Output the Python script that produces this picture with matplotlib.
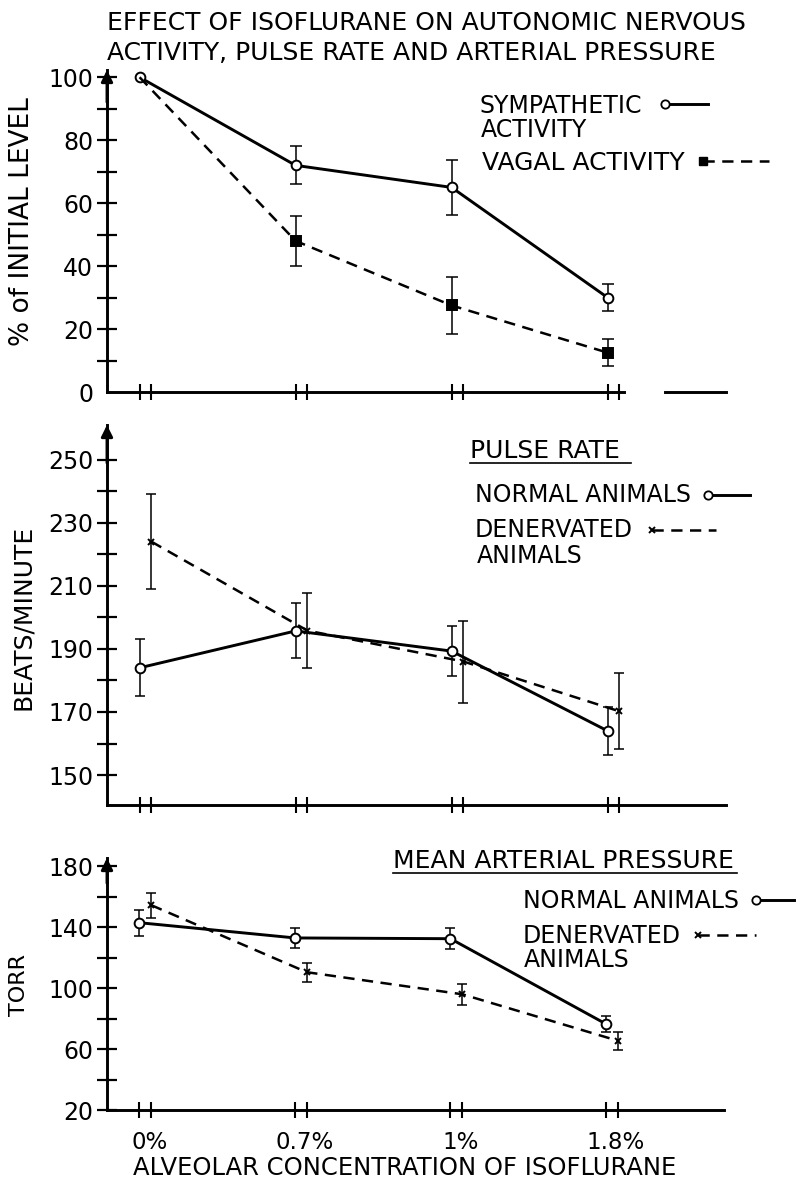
import matplotlib
matplotlib.use("Agg")
import matplotlib.pyplot as plt
from matplotlib.lines import Line2D

W, H = 796, 1183

# --- data ---------------------------------------------------------------
conc_labels = ["0%", "0.7%", "1%", "1.8%"]
conc_pos = [0, 1, 2, 3]
pair_gap = 0.076  # second tick of each tick pair, in category units

symp = [100, 72, 65, 30]
symp_err = [0, 6, 8.7, 4.3]
vagal = [100, 48, 27.5, 12.5]
vagal_err = [0, 8, 9, 4.3]

pulse_normal = [184, 195.7, 189.3, 164]
pulse_normal_err = [9, 8.7, 8, 7.6]
pulse_denerv = [224, 195.8, 186, 170.2]
pulse_denerv_err = [15, 12, 13, 12]

map_normal = [143, 133, 132.5, 76.5]
map_normal_err = [8.5, 6.3, 7, 5.5]
map_denerv = [154.5, 110.5, 96, 65.5]
map_denerv_err = [8.3, 6.3, 7, 6]

plt.rcParams["font.family"] = ["DejaVu Sans"]
FS = 17
LW = 2.1

fig = plt.figure(figsize=(W / 100, H / 100), dpi=100)


def px_axes(left, right, top, bottom):
    return fig.add_axes([left / W, 1 - bottom / H, (right - left) / W, (bottom - top) / H])


def ptxt(x, y, s, size=FS, **kw):
    fig.text(x / W, 1 - y / H, s, fontsize=size, ha=kw.pop("ha", "left"),
             va=kw.pop("va", "baseline"), **kw)


def pline(x0, x1, y, **kw):
    fig.add_artist(Line2D([x0 / W, x1 / W], [1 - y / H, 1 - y / H],
                          transform=fig.transFigure, color="k", **kw))


def style(ax, ylim, major, minor, xlabels=False):
    ax.set_xlim(-0.209, 3.759)
    ax.set_ylim(*ylim)
    for s in ("top", "right"):
        ax.spines[s].set_visible(False)
    for s in ("left", "bottom"):
        ax.spines[s].set_linewidth(LW)
    # labels sit a little right of each tick pair's centre
    ax.set_xticks([p + pair_gap * 0.85 for p in conc_pos])
    ax.set_xticks([p for p in conc_pos] + [p + pair_gap for p in conc_pos], minor=True)
    if xlabels:
        ax.set_xticklabels(conc_labels, fontsize=16.5)
    else:
        ax.set_xticklabels([])
    ax.tick_params(axis="x", which="major", length=0, pad=15)
    ax.tick_params(axis="x", which="minor", direction="inout", length=12, width=1.5)
    ax.set_yticks(major)
    ax.set_yticks(minor, minor=True)
    ax.tick_params(axis="y", which="both", direction="inout", length=14, width=1.6,
                   pad=3, labelsize=FS)
    ax.annotate("", xy=(0, 1), xycoords="axes fraction", xytext=(0, 0.9),
                arrowprops=dict(arrowstyle="-|>", color="k", lw=LW,
                                mutation_scale=17, shrinkA=0, shrinkB=0))


def series(ax, xs, ys, errs, ls, marker, ms, mfc, markevery=None, capsize=4):
    ax.plot(xs, ys, color="k", lw=LW if ls == "-" else 1.8, ls=ls,
            dashes=(4.5, 3) if ls == "--" else (None, None),
            marker=marker, ms=ms, mfc=mfc, mec="k", mew=1.4,
            markevery=markevery, zorder=3, clip_on=False)
    idx = [i for i, e in enumerate(errs) if e > 0]
    ax.errorbar([xs[i] for i in idx], [ys[i] for i in idx], yerr=[errs[i] for i in idx],
                fmt="none", ecolor="k", elinewidth=1.1, capsize=capsize, capthick=1.1,
                zorder=2)


xs_left = conc_pos
xs_right = [p + pair_gap for p in conc_pos]

# --- top: autonomic activity ---------------------------------------------
ax1 = px_axes(107, 726, 70, 392)
style(ax1, (0, 102.3), list(range(0, 101, 20)), list(range(10, 100, 20)))
ax1.yaxis.get_major_ticks()[0].tick1line.set_visible(False)
ax1.spines["bottom"].set_bounds(-0.209, 3.105)
ax1.axhline(0, 0.9015, 1, color="k", lw=LW, clip_on=False)
series(ax1, xs_left, symp, symp_err, "-", "o", 7, "white", capsize=4.5)
series(ax1, xs_left, vagal, vagal_err, "--", "s", 6.5, "k", markevery=[1, 2, 3], capsize=4.5)
ax1.lines[0].set_zorder(4)

# --- middle: pulse rate -----------------------------------------------------
ax2 = px_axes(107, 726, 425, 805)
style(ax2, (140.5, 261), list(range(150, 251, 20)), list(range(160, 241, 20)))
series(ax2, xs_left, pulse_normal, pulse_normal_err, "-", "o", 7, "white", capsize=3.3)
series(ax2, xs_right, pulse_denerv, pulse_denerv_err, "--", "x", 4, "k", capsize=3.3)

# --- bottom: mean arterial pressure ----------------------------------------
ax3 = px_axes(107, 724, 858, 1110)
style(ax3, (20, 185.5), list(range(20, 181, 40)), list(range(40, 161, 40)), xlabels=True)
series(ax3, xs_left, map_normal, map_normal_err, "-", "o", 7, "white", capsize=3.3)
series(ax3, xs_right, map_denerv, map_denerv_err, "--", "x", 4, "k", capsize=3.3)

# --- texts ------------------------------------------------------------------
ptxt(107, 30, "EFFECT OF ISOFLURANE ON AUTONOMIC NERVOUS", size=18)
ptxt(107, 60, "ACTIVITY, PULSE RATE AND ARTERIAL PRESSURE", size=18)

ptxt(22, 222, "% of INITIAL LEVEL", size=19, rotation=90, ha="center", va="center")
ptxt(23, 617, "BEATS/MINUTE", size=18, rotation=90, ha="center", va="center")
ptxt(19, 985, "TORR", size=16, rotation=90, ha="center", va="center")

ptxt(405, 1175, "ALVEOLAR CONCENTRATION OF ISOFLURANE", size=17.5, ha="center")

# legends
ptxt(480, 113, "SYMPATHETIC")
ptxt(481, 137, "ACTIVITY")
pline(665, 708, 104, lw=LW, marker="o", ms=6, mfc="white", mew=1.3, markevery=[0])
ptxt(482, 170, "VAGAL ACTIVITY", size=18)
pline(703, 769, 161, lw=1.8, ls=(0, (4.5, 3)), marker="s", ms=6, mfc="k", markevery=[0])

ptxt(470, 458, "PULSE RATE", size=18)
pline(470, 631, 463, lw=1.2)
ptxt(475, 502, "NORMAL ANIMALS")
pline(708, 750, 495, lw=LW, marker="o", ms=6, mfc="white", mew=1.3, markevery=[0])
ptxt(475, 537, "DENERVATED")
ptxt(477, 563, "ANIMALS")
pline(652, 716, 530, lw=1.8, ls=(0, (4.5, 3)), marker="x", ms=4, mew=1.4, markevery=[0])

ptxt(393, 868, "MEAN ARTERIAL PRESSURE", size=18)
pline(393, 737, 873, lw=1.2)
ptxt(523, 908, "NORMAL ANIMALS")
pline(756, 794, 900, lw=LW, marker="o", ms=6, mfc="white", mew=1.3, markevery=[0])
ptxt(523, 943, "DENERVATED")
ptxt(524, 967, "ANIMALS")
pline(698, 756, 935, lw=1.8, ls=(0, (4.5, 3)), marker="x", ms=4, mew=1.4, markevery=[0])

fig.savefig("out.png", dpi=100)
